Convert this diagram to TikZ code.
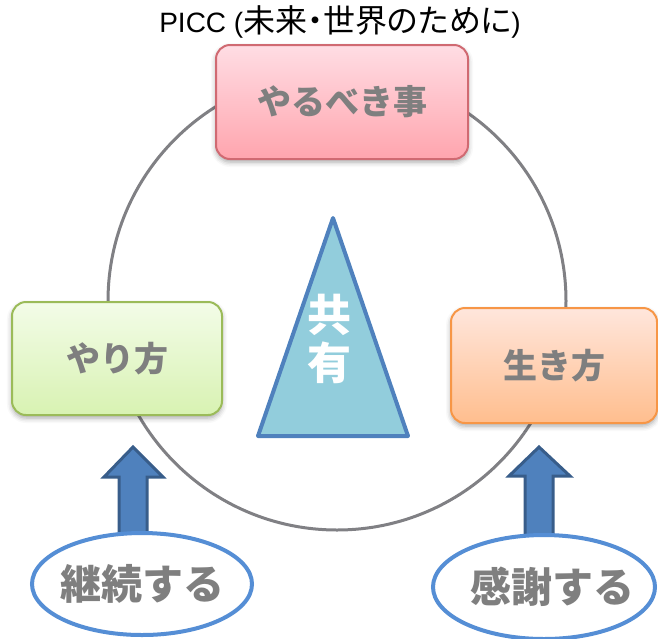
\documentclass[tikz,border=0pt]{standalone}
\usepackage{fontspec}
\setmainfont{Liberation Sans}
\newfontfamily\jp{Noto Sans CJK JP}
\newfontfamily\jpp{Noto Sans CJK JP}[RawFeature=+palt]
\usetikzlibrary{shapes.geometric,shadows.blur}
\definecolor{txtgray}{RGB}{127,127,127}
\definecolor{ringgray}{RGB}{128,128,132}
\definecolor{pinktop}{RGB}{255,221,228}
\definecolor{pinkbot}{RGB}{255,165,174}
\definecolor{pinkline}{RGB}{208,106,114}
\definecolor{greentop}{RGB}{243,252,232}
\definecolor{greenbot}{RGB}{216,242,178}
\definecolor{greenline}{RGB}{155,187,89}
\definecolor{orangetop}{RGB}{255,230,220}
\definecolor{orangebot}{RGB}{255,190,142}
\definecolor{orangeline}{RGB}{247,150,70}
\definecolor{trifill}{RGB}{146,205,220}
\definecolor{triline}{RGB}{79,129,189}
\definecolor{arrfill}{RGB}{79,129,189}
\definecolor{arrline}{RGB}{56,93,138}
\definecolor{ellline}{RGB}{85,142,213}
\tikzset{
  boxbase/.style={rounded corners=14pt, line width=2pt, text=txtgray,
    font=\jp\bfseries\fontsize{34}{40}\selectfont,
    blur shadow={shadow xshift=0pt, shadow yshift=-3pt, shadow blur radius=5pt, shadow opacity=35}},
  pinkbox/.style={boxbase, draw=pinkline, top color=pinktop, bottom color=pinkbot},
  greenbox/.style={boxbase, draw=greenline, top color=greentop, bottom color=greenbot},
  orangebox/.style={boxbase, draw=orangeline, top color=orangetop, bottom color=orangebot},
  ring/.style={draw=ringgray, line width=3pt},
  tri/.style={draw=triline, fill=trifill, line width=4pt, line join=round},
  bigarrow/.style={draw=arrline, fill=arrfill, line width=3pt, line join=miter},
  oval/.style={ellipse, draw=ellline, fill=white, line width=4pt, inner sep=0pt},
  ovaltext/.style={text=txtgray, font=\jp\bfseries\fontsize{41}{48}\selectfont, inner sep=0pt},
}
\begin{document}
\begin{tikzpicture}[x=1pt,y=-1pt]
\useasboundingbox (0,0) rectangle (658,638);
% title
\node (title) at (340,22) {\fontsize{28}{32}\selectfont PICC ({\jpp\fontsize{32}{36}\selectfont 未来・世界のために})};
% ring
\coordinate (ctr) at (337,301);
\draw[ring] (ctr) circle[radius=229pt];
% boxes
\node[pinkbox, minimum width=252pt, minimum height=114pt] (todo) at (342,102) {やるべき事};
\node[greenbox, minimum width=210pt, minimum height=113pt] (how) at (117,358.5) {やり方};
\node[orangebox, minimum width=206pt, minimum height=115pt] (life) at (554,365.5) {生き方};
% triangle
\coordinate (tA) at (333,218);
\coordinate (tB) at (258,436);
\coordinate (tC) at (408,436);
\draw[tri] (tA) -- (tB) -- (tC) -- cycle;
\node[text=white, font=\jp\bfseries\fontsize{44}{48}\selectfont, align=center, inner sep=0pt] (share) at (329,339) {共\\有};
% arrows
\draw[bigarrow] (133,447) -- (163,477) -- (147,477) -- (147,538) -- (119,538) -- (119,477) -- (104,477) -- cycle;
\draw[bigarrow] (539,447) -- (570,476) -- (553,476) -- (553,540) -- (525,540) -- (525,476) -- (509,476) -- cycle;
% ellipses
\node[oval, minimum width=220pt, minimum height=102pt] (cont) at (142,584) {};
\node[ovaltext] (conttxt) at (cont.center) {継続する};
\node[oval, minimum width=222pt, minimum height=104pt] (thanks) at (544,587) {};
\node[ovaltext] (thankstxt) at ([xshift=8pt]thanks.center) {感謝する};
\end{tikzpicture}
\end{document}
